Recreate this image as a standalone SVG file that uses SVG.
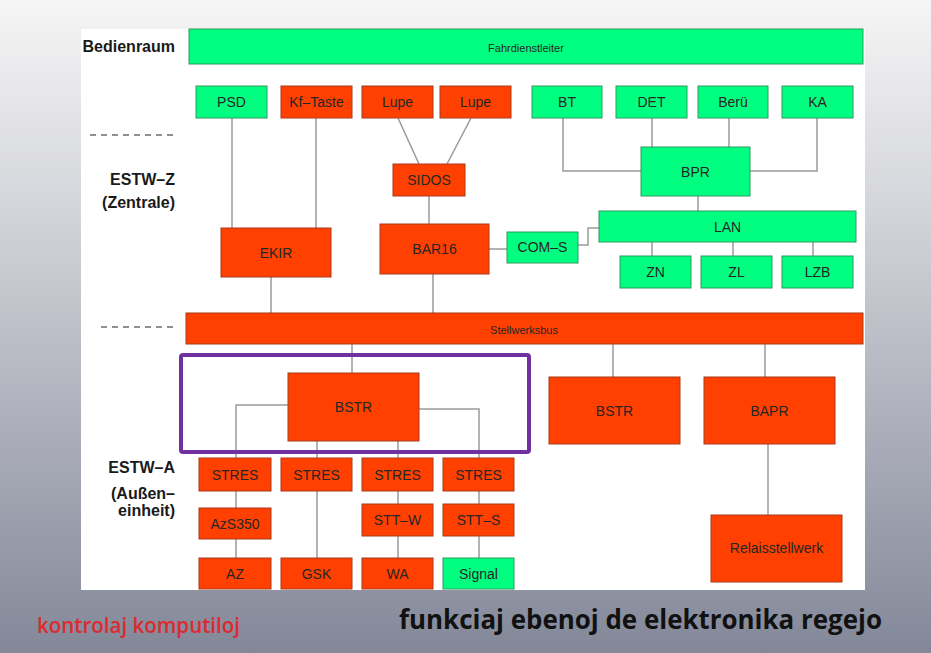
<svg xmlns="http://www.w3.org/2000/svg" width="931" height="653" viewBox="0 0 931 653">
<defs>
<linearGradient id="bg" x1="0" y1="0" x2="0" y2="1">
<stop offset="0" stop-color="#f5f5f5"/>
<stop offset="0.3" stop-color="#d6d7dc"/>
<stop offset="1" stop-color="#838899"/>
</linearGradient>
<style>
.g{fill:#00ff80;stroke:#2f9a5e;stroke-width:1}
.r{fill:#ff4000;stroke:#a83a1a;stroke-width:1}
.t{font-family:"Liberation Sans",Arial,sans-serif;font-size:14px;fill:#262626;text-anchor:middle}
.s{font-size:11px}
.lbl{font-family:"Liberation Sans",Arial,sans-serif;font-size:16px;font-weight:bold;fill:#1a1a1a;text-anchor:end}
.c{fill:none;stroke:#9a9a9a;stroke-width:1.5}
.d{fill:none;stroke:#6e6e6e;stroke-width:1.5;stroke-dasharray:6 5}
</style>
</defs>
<rect x="0" y="0" width="931" height="653" fill="url(#bg)"/>
<rect x="81" y="29" width="784" height="561" fill="#ffffff"/>

<g id="labels">
<text class="lbl" x="175" y="52">Bedienraum</text>
<text class="lbl" x="175" y="185">ESTW–Z</text>
<text class="lbl" x="175" y="208">(Zentrale)</text>
<text class="lbl" x="175" y="473">ESTW–A</text>
<text class="lbl" x="175" y="499">(Außen–</text>
<text class="lbl" x="175" y="516">einheit)</text>
<line class="d" x1="90" y1="135" x2="178" y2="135"/>
<line class="d" x1="101" y1="327" x2="178" y2="327"/>
</g>

<g id="connectors">
<path class="c" d="M232,118V228"/>
<path class="c" d="M316,118V228"/>
<path class="c" d="M398,118L419,164"/>
<path class="c" d="M471,118L447,164"/>
<path class="c" d="M429,196V224"/>
<path class="c" d="M489,249H507"/>
<path class="c" d="M578,245H588V228H599"/>
<path class="c" d="M563,118V171H641"/>
<path class="c" d="M652,118V147"/>
<path class="c" d="M729,118V147"/>
<path class="c" d="M817,118V171H750"/>
<path class="c" d="M698,196V211"/>
<path class="c" d="M652,242V256"/>
<path class="c" d="M733,242V256"/>
<path class="c" d="M813,242V256"/>
<path class="c" d="M271,277V313"/>
<path class="c" d="M433,274V313"/>
<path class="c" d="M352,344V373"/>
<path class="c" d="M288,405H236V458"/>
<path class="c" d="M419,409H479V458"/>
<path class="c" d="M317,441V458"/>
<path class="c" d="M398,441V458"/>
<path class="c" d="M236,491V508"/>
<path class="c" d="M236,539V558"/>
<path class="c" d="M317,491V558"/>
<path class="c" d="M398,491V504"/>
<path class="c" d="M398,536V558"/>
<path class="c" d="M479,491V504"/>
<path class="c" d="M479,536V558"/>
<path class="c" d="M613,344V377"/>
<path class="c" d="M765,344V377"/>
<path class="c" d="M768,444V515"/>
</g>

<g id="fahrdienstleiter"><rect class="g" x="189" y="29" width="674" height="35"/><text class="t s" x="526" y="52">Fahrdienstleiter</text></g>
<g id="psd"><rect class="g" x="196" y="86" width="71" height="32"/><text class="t" x="231.5" y="107">PSD</text></g>
<g id="kftaste"><rect class="r" x="281" y="86" width="71" height="32"/><text class="t" x="316.5" y="107">Kf–Taste</text></g>
<g id="lupe1"><rect class="r" x="362" y="86" width="71" height="32"/><text class="t" x="397.5" y="107">Lupe</text></g>
<g id="lupe2"><rect class="r" x="440" y="86" width="71" height="32"/><text class="t" x="475.5" y="107">Lupe</text></g>
<g id="bt"><rect class="g" x="532" y="86" width="70" height="32"/><text class="t" x="567" y="107">BT</text></g>
<g id="det"><rect class="g" x="616" y="86" width="71" height="32"/><text class="t" x="651.5" y="107">DET</text></g>
<g id="beru"><rect class="g" x="698" y="86" width="70" height="32"/><text class="t" x="733" y="107">Berü</text></g>
<g id="ka"><rect class="g" x="782" y="86" width="71" height="32"/><text class="t" x="817.5" y="107">KA</text></g>
<g id="sidos"><rect class="r" x="393" y="164" width="72" height="32"/><text class="t" x="429" y="185">SIDOS</text></g>
<g id="bpr"><rect class="g" x="641" y="147" width="109" height="49"/><text class="t" x="695.5" y="177">BPR</text></g>
<g id="ekir"><rect class="r" x="221" y="228" width="110" height="49"/><text class="t" x="276" y="258">EKIR</text></g>
<g id="bar16"><rect class="r" x="380" y="224" width="109" height="50"/><text class="t" x="434.5" y="254">BAR16</text></g>
<g id="coms"><rect class="g" x="507" y="232" width="71" height="31"/><text class="t" x="542.5" y="252">COM–S</text></g>
<g id="lan"><rect class="g" x="599" y="211" width="257" height="31"/><text class="t" x="727.5" y="232">LAN</text></g>
<g id="zn"><rect class="g" x="620" y="256" width="71" height="32"/><text class="t" x="655.5" y="277">ZN</text></g>
<g id="zl"><rect class="g" x="701" y="256" width="71" height="32"/><text class="t" x="736.5" y="277">ZL</text></g>
<g id="lzb"><rect class="g" x="782" y="256" width="71" height="32"/><text class="t" x="817.5" y="277">LZB</text></g>
<g id="stellwerksbus"><rect class="r" x="186" y="313" width="677" height="31"/><text class="t s" x="524" y="334">Stellwerksbus</text></g>
<g id="highlight"><rect x="181" y="355" width="348" height="97" fill="none" stroke="#7030a0" stroke-width="4" rx="2"/></g>
<g id="bstr1"><rect class="r" x="288" y="373" width="131" height="68"/><text class="t" x="353.5" y="412">BSTR</text></g>
<g id="bstr2"><rect class="r" x="549" y="377" width="131" height="67"/><text class="t" x="614.5" y="416">BSTR</text></g>
<g id="bapr"><rect class="r" x="704" y="377" width="131" height="67"/><text class="t" x="769.5" y="416">BAPR</text></g>
<g id="stres1"><rect class="r" x="199" y="458" width="72" height="33"/><text class="t" x="235" y="480">STRES</text></g>
<g id="stres2"><rect class="r" x="281" y="458" width="71" height="33"/><text class="t" x="316.5" y="480">STRES</text></g>
<g id="stres3"><rect class="r" x="362" y="458" width="71" height="33"/><text class="t" x="397.5" y="480">STRES</text></g>
<g id="stres4"><rect class="r" x="443" y="458" width="71" height="33"/><text class="t" x="478.5" y="480">STRES</text></g>
<g id="azs350"><rect class="r" x="199" y="508" width="72" height="31"/><text class="t" x="235" y="529">AzS350</text></g>
<g id="sttw"><rect class="r" x="362" y="504" width="71" height="32"/><text class="t" x="397.5" y="525">STT–W</text></g>
<g id="stts"><rect class="r" x="443" y="504" width="71" height="32"/><text class="t" x="478.5" y="525">STT–S</text></g>
<g id="az"><rect class="r" x="199" y="558" width="72" height="31"/><text class="t" x="235" y="579">AZ</text></g>
<g id="gsk"><rect class="r" x="281" y="558" width="71" height="31"/><text class="t" x="316.5" y="579">GSK</text></g>
<g id="wa"><rect class="r" x="362" y="558" width="71" height="31"/><text class="t" x="397.5" y="579">WA</text></g>
<g id="signal"><rect class="g" x="443" y="558" width="71" height="31"/><text class="t" x="478.5" y="579">Signal</text></g>
<g id="relais"><rect class="r" x="711" y="515" width="131" height="67"/><text class="t" x="776.5" y="553">Relaisstellwerk</text></g>

<g id="captions">
<text x="37" y="633" font-family="'Open Sans',sans-serif" font-size="22" font-weight="600" fill="#dc2a2e" textLength="203" lengthAdjust="spacingAndGlyphs">kontrolaj komputiloj</text>
<text x="399" y="629" font-family="'Open Sans',sans-serif" font-size="26" font-weight="bold" fill="#111111" textLength="483" lengthAdjust="spacingAndGlyphs">funkciaj ebenoj de elektronika regejo</text>
</g>
</svg>
